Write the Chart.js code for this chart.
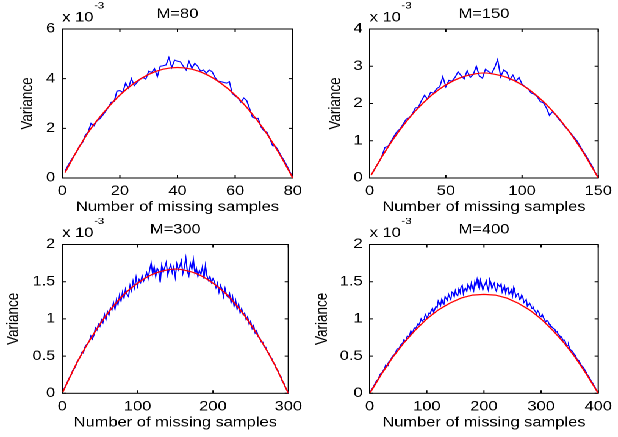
<!DOCTYPE html>
<html>
<head>
<meta charset="utf-8">
<script src="https://cdn.jsdelivr.net/npm/chart.js@4.4.1/dist/chart.umd.min.js"></script>
<style>
  html, body { margin: 0; padding: 0; background: #fff; overflow: hidden; }
  /* the source figure is stretched sideways, so the whole stage is too */
  #stage { position: absolute; left: 0; top: 0; width: 507px; height: 437px; transform: scaleX(1.22); transform-origin: 0 0; }
  #stage canvas { position: absolute; }
</style>
</head>
<body>
<div id="stage">
  <canvas id="c80" width="253" height="218" style="left:0;top:0;width:253px;height:218px"></canvas>
  <canvas id="c150" width="254" height="218" style="left:253px;top:0;width:254px;height:218px"></canvas>
  <canvas id="c300" width="253" height="219" style="left:0;top:218px;width:253px;height:219px"></canvas>
  <canvas id="c400" width="254" height="219" style="left:253px;top:218px;width:254px;height:219px"></canvas>
</div>
<script>
// values are in units of 1e-3

// M = 80
const m80XTicks = [0, 20, 40, 60, 80];
const m80YTicks = [0, 2, 4, 6];
const m80RedX = [1, 5, 10, 15, 20, 25, 30, 35, 40, 45, 50, 55, 60, 65, 70, 75, 80];
const m80Red = [0.22, 1.07, 2.00, 2.72, 3.34, 3.82, 4.17, 4.38, 4.45, 4.38, 4.17, 3.82, 3.34, 2.71, 1.95, 1.04, 0];
const m80BlueStep = 1;
const m80Blue = [
  0.28, 0.50, 0.70, 0.88, 1.05, 1.30, 1.42, 1.72, 1.85, 2.20,
  2.10, 2.30, 2.38, 2.52, 2.68, 2.85, 3.05, 3.08, 3.50, 3.52,
  3.45, 3.82, 3.62, 4.00, 3.72, 3.85, 3.98, 4.05, 3.98, 4.30,
  4.25, 4.40, 4.08, 4.50, 4.52, 4.55, 4.85, 4.45, 4.75, 4.70,
  4.68, 4.50, 4.35, 4.70, 4.42, 4.62, 4.50, 4.30, 4.35, 4.22,
  4.35, 4.28, 4.05, 3.90, 3.88, 3.85, 3.82, 3.88, 3.40, 3.30,
  3.22, 3.05, 3.22, 3.12, 2.80, 2.45, 2.40, 2.40, 2.05, 1.90,
  1.85, 1.60, 1.30, 1.28, 1.10, 0.88, 0.70, 0.48, 0.25, 0.02
];

// M = 150
const m150XTicks = [0, 50, 100, 150];
const m150YTicks = [0, 1, 2, 3, 4];
const m150RedX = [1, 10, 20, 30, 40, 50, 60, 70, 75, 80, 90, 100, 110, 120, 130, 140, 150];
const m150Red = [0.08, 0.70, 1.30, 1.80, 2.20, 2.50, 2.70, 2.80, 2.82, 2.80, 2.70, 2.50, 2.20, 1.80, 1.30, 0.70, 0];
const m150BlueStep = 2;
const m150Blue = [
  0.15, 0.30, 0.42, 0.58, 0.82, 0.85, 0.98, 1.12, 1.25, 1.32,
  1.45, 1.58, 1.62, 1.72, 1.88, 1.90, 2.08, 2.22, 2.12, 2.30,
  2.28, 2.40, 2.45, 2.72, 2.45, 2.62, 2.60, 2.70, 2.85, 2.75,
  2.66, 2.88, 2.70, 2.78, 3.00, 2.74, 2.68, 2.92, 2.86, 2.80,
  2.96, 3.18, 2.72, 2.90, 2.84, 2.64, 2.76, 2.60, 2.70, 2.52,
  2.45, 2.40, 2.28, 2.25, 2.18, 2.05, 2.02, 1.88, 1.68, 1.78,
  1.70, 1.58, 1.50, 1.38, 1.30, 1.20, 1.10, 1.00, 0.86, 0.72,
  0.60, 0.46, 0.32, 0.15, 0.02
];

// M = 300
const m300XTicks = [0, 100, 200, 300];
const m300YTicks = [0, 0.5, 1, 1.5, 2];
const m300RedX = [1, 20, 40, 60, 80, 100, 120, 140, 150, 160, 180, 200, 220, 240, 260, 280, 300];
const m300Red = [0.02, 0.42, 0.77, 1.07, 1.31, 1.48, 1.60, 1.66, 1.67, 1.66, 1.60, 1.48, 1.31, 1.07, 0.77, 0.42, 0];
const m300BlueStep = 2;
const m300Blue = [
  0.05, 0.09, 0.13, 0.18, 0.22, 0.25, 0.31, 0.33, 0.37, 0.43,
  0.46, 0.49, 0.55, 0.54, 0.62, 0.65, 0.67, 0.70, 0.77, 0.73,
  0.78, 0.88, 0.85, 0.93, 0.90, 0.99, 0.95, 1.06, 0.99, 1.10,
  1.05, 1.15, 1.12, 1.22, 1.13, 1.26, 1.19, 1.32, 1.24, 1.36,
  1.28, 1.40, 1.33, 1.30, 1.45, 1.38, 1.51, 1.42, 1.56, 1.44,
  1.53, 1.49, 1.58, 1.51, 1.56, 1.62, 1.54, 1.66, 1.75, 1.60,
  1.70, 1.57, 1.68, 1.64, 1.49, 1.72, 1.63, 1.69, 1.76, 1.59,
  1.67, 1.73, 1.62, 1.70, 1.56, 1.74, 1.66, 1.71, 1.78, 1.61,
  1.69, 1.82, 1.64, 1.58, 1.75, 1.67, 1.80, 1.62, 1.68, 1.57,
  1.65, 1.60, 1.70, 1.54, 1.72, 1.58, 1.52, 1.57, 1.49, 1.54,
  1.50, 1.42, 1.48, 1.36, 1.45, 1.40, 1.30, 1.41, 1.32, 1.29,
  1.34, 1.22, 1.30, 1.17, 1.25, 1.13, 1.20, 1.08, 1.14, 1.06,
  1.08, 0.99, 1.03, 0.93, 0.97, 0.87, 0.91, 0.81, 0.84, 0.76,
  0.75, 0.69, 0.69, 0.62, 0.62, 0.56, 0.54, 0.49, 0.47, 0.41,
  0.39, 0.33, 0.31, 0.25, 0.23, 0.16, 0.14, 0.08, 0.05, 0.00
];

// M = 400
const m400XTicks = [0, 100, 200, 300, 400];
const m400YTicks = [0, 0.5, 1, 1.5, 2];
const m400RedX = [1, 20, 40, 60, 80, 100, 120, 140, 160, 180, 200, 220, 240, 260, 280, 300, 320, 340, 360, 380, 400];
const m400Red = [0.01, 0.25, 0.48, 0.68, 0.85, 1.00, 1.12, 1.21, 1.28, 1.32, 1.33, 1.32, 1.28, 1.21, 1.12, 1.00, 0.85, 0.68, 0.48, 0.25, 0];
const m400BlueStep = 2;
const m400Blue = [
  0.03, 0.06, 0.08, 0.11, 0.14, 0.17, 0.18, 0.21, 0.25, 0.27,
  0.28, 0.31, 0.33, 0.38, 0.37, 0.40, 0.43, 0.44, 0.47, 0.50,
  0.51, 0.53, 0.56, 0.60, 0.59, 0.61, 0.65, 0.66, 0.68, 0.72,
  0.71, 0.73, 0.77, 0.76, 0.78, 0.84, 0.80, 0.83, 0.88, 0.87,
  0.89, 0.93, 0.92, 0.95, 1.00, 0.97, 0.99, 1.03, 1.06, 1.01,
  1.04, 1.08, 1.07, 1.12, 1.14, 1.09, 1.13, 1.17, 1.15, 1.24,
  1.21, 1.18, 1.26, 1.22, 1.20, 1.30, 1.27, 1.25, 1.33, 1.29,
  1.26, 1.36, 1.35, 1.30, 1.38, 1.33, 1.31, 1.40, 1.36, 1.43,
  1.45, 1.34, 1.40, 1.41, 1.37, 1.46, 1.43, 1.39, 1.48, 1.42,
  1.38, 1.50, 1.45, 1.53, 1.44, 1.41, 1.52, 1.46, 1.39, 1.44,
  1.47, 1.51, 1.43, 1.38, 1.53, 1.49, 1.41, 1.45, 1.48, 1.40,
  1.37, 1.47, 1.45, 1.43, 1.47, 1.36, 1.40, 1.44, 1.35, 1.41,
  1.42, 1.33, 1.36, 1.39, 1.31, 1.42, 1.37, 1.30, 1.33, 1.34,
  1.26, 1.27, 1.32, 1.29, 1.22, 1.24, 1.26, 1.17, 1.19, 1.21,
  1.18, 1.14, 1.16, 1.12, 1.10, 1.07, 1.11, 1.09, 1.04, 1.03,
  1.06, 1.02, 0.99, 0.96, 0.98, 0.97, 0.93, 0.91, 0.90, 0.88,
  0.87, 0.86, 0.82, 0.83, 0.79, 0.78, 0.75, 0.76, 0.71, 0.72,
  0.70, 0.65, 0.64, 0.65, 0.60, 0.58, 0.57, 0.55, 0.52, 0.51,
  0.47, 0.45, 0.44, 0.41, 0.38, 0.36, 0.35, 0.32, 0.29, 0.26,
  0.24, 0.22, 0.19, 0.16, 0.14, 0.11, 0.09, 0.05, 0.03, 0.00
];

const FONT = '"Liberation Sans", Arial, Helvetica, sans-serif';

// matlab style box, inward ticks, title and the x 10^-3 mark
const matlabFrame = {
  id: 'matlabFrame',
  beforeDatasetsDraw(chart) {
    const {ctx, chartArea: a, scales: {x, y}} = chart;
    ctx.save();
    ctx.strokeStyle = '#000';
    ctx.lineWidth = 1;
    ctx.strokeRect(a.left, a.top, a.width, a.height);
    ctx.beginPath();
    x.ticks.forEach(t => {
      const px = x.getPixelForValue(t.value);
      ctx.moveTo(px, a.bottom); ctx.lineTo(px, a.bottom - 3);
      ctx.moveTo(px, a.top); ctx.lineTo(px, a.top + 3);
    });
    y.ticks.forEach(t => {
      const py = y.getPixelForValue(t.value);
      ctx.moveTo(a.left, py); ctx.lineTo(a.left + 3, py);
      ctx.moveTo(a.right, py); ctx.lineTo(a.right - 3, py);
    });
    ctx.stroke();
    ctx.restore();
  },
  afterDraw(chart, args, opts) {
    const {ctx, chartArea: a} = chart;
    ctx.save();
    ctx.fillStyle = '#000';
    ctx.font = '13.5px ' + FONT;
    ctx.textAlign = 'center';
    ctx.textBaseline = 'middle';
    ctx.fillText(opts.title, (a.left + a.right) / 2, a.top - 14.5);
    ctx.textAlign = 'left';
    ctx.textBaseline = 'alphabetic';
    ctx.fillText('x 10', a.left, a.top - 7.5);
    const w = ctx.measureText('x 10').width;
    ctx.font = '9.5px ' + FONT;
    ctx.fillText('-3', a.left + w + 0.5, a.top - 20.5);
    ctx.restore();
  }
};

function points(xs, ys) {
  return ys.map((v, i) => ({x: xs[i], y: v}));
}

function stepPoints(step, ys) {
  return ys.map((v, i) => ({x: (i + 1) * step, y: v}));
}

function makePanel(id, p) {
  const font = {family: FONT, size: 13.5};
  return new Chart(document.getElementById(id), {
    type: 'line',
    data: {
      datasets: [
        {
          data: points(p.redX, p.red),
          borderColor: '#ff0000',
          borderWidth: 1.2,
          pointRadius: 0,
          cubicInterpolationMode: p.smooth ? 'monotone' : 'default',
          order: 0
        },
        {
          data: stepPoints(p.step, p.blue),
          borderColor: '#0000ff',
          borderWidth: 1,
          pointRadius: 0,
          order: 1
        }
      ]
    },
    options: {
      responsive: false,
      animation: false,
      devicePixelRatio: 2,
      events: [],
      layout: {padding: {top: p.top, right: p.right, left: 0, bottom: 0}},
      plugins: {
        legend: {display: false},
        tooltip: {enabled: false},
        matlabFrame: {title: p.title}
      },
      scales: {
        x: {
          type: 'linear',
          min: 0,
          max: p.xTicks[p.xTicks.length - 1],
          afterBuildTicks: s => { s.ticks = p.xTicks.map(v => ({value: v})); },
          afterFit: s => { s.height = p.xh; },
          grid: {display: false, drawTicks: false},
          border: {display: false},
          ticks: {padding: 5.4, color: '#000', font: font, autoSkip: false, maxRotation: 0, callback: v => String(v)},
          title: {display: true, text: 'Number of missing samples', color: '#000', font: font, padding: {top: 0, bottom: p.xtPad}}
        },
        y: {
          type: 'linear',
          min: 0,
          max: p.yTicks[p.yTicks.length - 1],
          afterBuildTicks: s => { s.ticks = p.yTicks.map(v => ({value: v})); },
          afterFit: s => { s.width = p.yw; },
          grid: {display: false, drawTicks: false},
          border: {display: false},
          ticks: {padding: 5.7, color: '#000', font: font, autoSkip: false, callback: v => String(v)},
          title: {display: true, text: 'Variance', color: '#000', font: font, padding: {top: p.ytPad, bottom: 0}}
        }
      }
    },
    plugins: [matlabFrame]
  });
}

makePanel('c80', {
  title: 'M=80', xTicks: m80XTicks, yTicks: m80YTicks,
  redX: m80RedX, red: m80Red, step: m80BlueStep, blue: m80Blue, smooth: true,
  top: 29, right: 13, yw: 51, xh: 40, xtPad: 2.6, ytPad: 14.8
});
makePanel('c150', {
  title: 'M=150', xTicks: m150XTicks, yTicks: m150YTicks,
  redX: m150RedX, red: m150Red, step: m150BlueStep, blue: m150Blue, smooth: true,
  top: 29, right: 13, yw: 50, xh: 40, xtPad: 2.6, ytPad: 14.3
});
makePanel('c300', {
  title: 'M=300', xTicks: m300XTicks, yTicks: m300YTicks,
  redX: m300RedX, red: m300Red, step: m300BlueStep, blue: m300Blue, smooth: true,
  top: 26.5, right: 13, yw: 51, xh: 43.7, xtPad: 6.3, ytPad: 3.4
});
makePanel('c400', {
  title: 'M=400', xTicks: m400XTicks, yTicks: m400YTicks,
  redX: m400RedX, red: m400Red, step: m400BlueStep, blue: m400Blue, smooth: false,
  top: 26.5, right: 13, yw: 50, xh: 43.7, xtPad: 6.3, ytPad: 3.2
});
</script>
</body>
</html>
